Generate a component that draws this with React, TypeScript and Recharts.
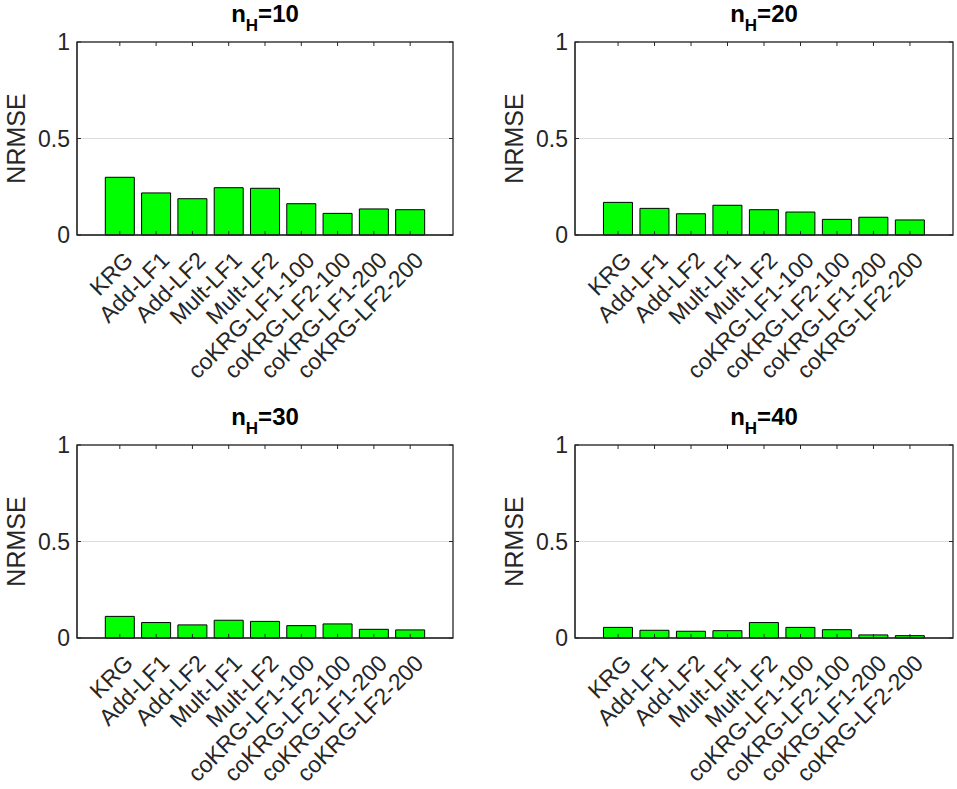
import { BarChart, Bar, XAxis, YAxis, CartesianGrid } from 'recharts';

const categories = [
  'KRG',
  'Add-LF1',
  'Add-LF2',
  'Mult-LF1',
  'Mult-LF2',
  'coKRG-LF1-100',
  'coKRG-LF2-100',
  'coKRG-LF1-200',
  'coKRG-LF2-200',
];
const positions = [1, 2, 3, 4, 5, 6, 7, 8, 9];

// NRMSE
const nrmseH10 = [0.299, 0.218, 0.188, 0.245, 0.242, 0.162, 0.112, 0.135, 0.131];
const nrmseH20 = [0.169, 0.138, 0.11, 0.154, 0.131, 0.119, 0.081, 0.092, 0.078];
const nrmseH30 = [0.112, 0.08, 0.068, 0.092, 0.086, 0.064, 0.073, 0.045, 0.042];
const nrmseH40 = [0.055, 0.04, 0.035, 0.038, 0.08, 0.055, 0.043, 0.016, 0.012];

const yTicks = [0, 0.5, 1];
const xDomain = [-0.18, 10.18];
const titles = ['10', '20', '30', '40'];

const FONT = '"Liberation Sans", Arial, Helvetica, sans-serif';
const AXIS = '#262626';
const TICK_LEN = 4;

interface PanelProps {
  values: number[];
  title: string;
  left: number;
  top: number;
  width: number;
  height: number;
  axisWidth: number;
  rightMargin: number;
}

function Panel({ values, title, left, top, width, height, axisWidth, rightMargin }: PanelProps) {
  const data = positions.map((pos, i) => ({ pos, name: categories[i], v: values[i] }));
  const marginTop = 42;
  const plotHeight = 193;
  const plotWidth = width - axisWidth - rightMargin;
  const cx = axisWidth + plotWidth / 2;

  // y ticks: label on the left, inward marks on both sides of the box
  const leftTick = (props: any) => {
    const { x, y, payload } = props;
    return (
      <g>
        <line x1={x} x2={x + TICK_LEN} y1={y} y2={y} stroke={AXIS} />
        <line x1={x + plotWidth} x2={x + plotWidth - TICK_LEN} y1={y} y2={y} stroke={AXIS} />
        <text
          x={x - 7}
          y={y}
          textAnchor="end"
          dominantBaseline="central"
          fontFamily={FONT}
          fontSize={23}
          fill={AXIS}
        >
          {payload.value}
        </text>
      </g>
    );
  };

  // x ticks: rotated category label, inward marks at bottom and top of the box
  const bottomTick = (props: any) => {
    const { x, y, payload } = props;
    return (
      <g>
        <line x1={x} x2={x} y1={y} y2={y - TICK_LEN} stroke={AXIS} />
        <line x1={x} x2={x} y1={y - plotHeight} y2={y - plotHeight + TICK_LEN} stroke={AXIS} />
        <g transform={`translate(${x + 9},${y + 21}) rotate(-45)`}>
          <text x={0} y={0} textAnchor="end" dy="0.35em" fontFamily={FONT} fontSize={23} fill={AXIS}>
            {categories[payload.value - 1]}
          </text>
        </g>
      </g>
    );
  };

  return (
    <div style={{ position: 'absolute', left, top, width, height }}>
      <BarChart
        width={width}
        height={height}
        data={data}
        margin={{ top: marginTop, right: rightMargin, bottom: 0, left: 0 }}
        barCategoryGap="10%"
      >
        <CartesianGrid vertical={false} stroke="#dedede" />
        <XAxis
          dataKey="pos"
          type="number"
          domain={xDomain}
          ticks={positions}
          allowDataOverflow
          interval={0}
          height={height - marginTop - plotHeight}
          axisLine={{ stroke: AXIS }}
          tickLine={false}
          tickSize={0}
          tickMargin={0}
          tick={bottomTick}
        />
        <YAxis
          type="number"
          domain={[0, 1]}
          ticks={yTicks}
          width={axisWidth}
          axisLine={{ stroke: AXIS }}
          tickLine={false}
          tickSize={0}
          tickMargin={0}
          tick={leftTick}
          label={{
            position: 'insideLeft',
            content: (p: any) => {
              const vb = p.viewBox;
              const lx = vb.x + axisWidth - 61;
              const ly = vb.y + vb.height / 2;
              return (
                <text
                  x={lx}
                  y={ly}
                  transform={`rotate(-90 ${lx} ${ly})`}
                  textAnchor="middle"
                  dominantBaseline="central"
                  fontFamily={FONT}
                  fontSize={25}
                  fill={AXIS}
                >
                  NRMSE
                </text>
              );
            },
          }}
        />
        <Bar dataKey="v" fill="#00ff00" stroke="#000000" strokeWidth={1} isAnimationActive={false} />
      </BarChart>
      {/* axes box and title */}
      <svg
        width={width}
        height={height}
        style={{ position: 'absolute', left: 0, top: 0, pointerEvents: 'none' }}
      >
        <rect
          x={axisWidth}
          y={marginTop}
          width={plotWidth}
          height={plotHeight}
          fill="none"
          stroke={AXIS}
          strokeWidth={1.3}
        />
        <text x={cx} y={22} textAnchor="middle" fontFamily={FONT} fontWeight="bold" fontSize={24} fill="#000">
          <tspan>n</tspan>
          <tspan dy={9} fontSize={17}>H</tspan>
          <tspan dy={-9}>={title}</tspan>
        </text>
      </svg>
    </div>
  );
}

export default function App() {
  return (
    <div
      style={{
        position: 'absolute',
        left: 0,
        top: 0,
        width: 957,
        height: 789,
        background: '#ffffff',
        overflow: 'hidden',
      }}
    >
      <Panel values={nrmseH10} title={titles[0]} left={0} top={0} width={478} height={403} axisWidth={77} rightMargin={25} />
      <Panel values={nrmseH20} title={titles[1]} left={478} top={0} width={479} height={403} axisWidth={97} rightMargin={4} />
      <Panel values={nrmseH30} title={titles[2]} left={0} top={403} width={478} height={386} axisWidth={77} rightMargin={25} />
      <Panel values={nrmseH40} title={titles[3]} left={478} top={403} width={479} height={386} axisWidth={97} rightMargin={4} />
    </div>
  );
}
